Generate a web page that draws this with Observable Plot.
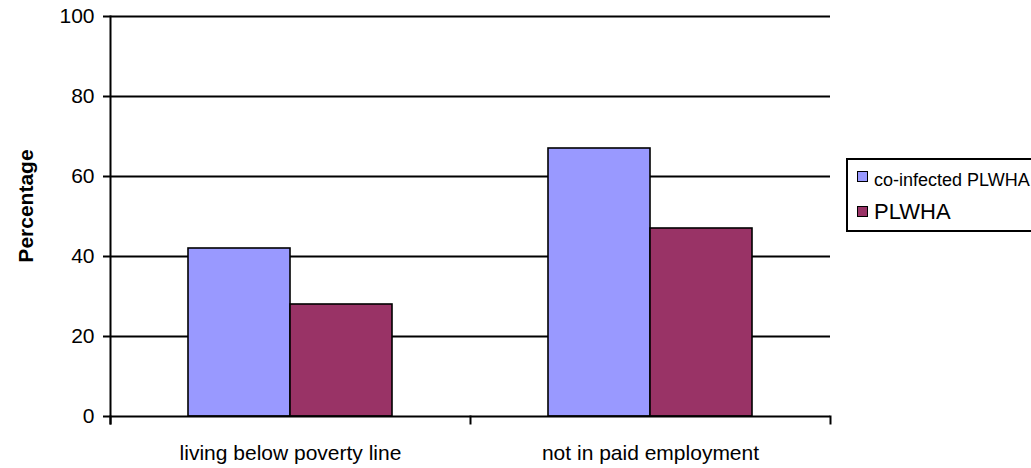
<!DOCTYPE html>
<html>
<head>
<meta charset="utf-8">
<script src="https://cdn.jsdelivr.net/npm/d3@7"></script>
<script src="https://cdn.jsdelivr.net/npm/@observablehq/plot@0.6"></script>
<style>
  body { margin: 0; background: #fff; font-family: "Liberation Sans", Arial, sans-serif; }
  #wrap { position: relative; width: 1031px; height: 468px; overflow: hidden; }
  #ylabel {
    position: absolute; left: -74px; top: 194px; width: 200px; height: 24px;
    line-height: 24px; text-align: center; font-weight: bold; font-size: 21px;
    transform: rotate(-90deg); color: #000;
  }
  #legend {
    position: absolute; left: 846px; top: 158px; width: 200px; height: 70px;
    border: 2px solid #000; background: #fff;
  }
  .sw { position: absolute; left: 9px; width: 9px; height: 9px; border: 1.5px solid #000; }
  .lt { position: absolute; left: 26px; white-space: nowrap; color: #000; }
</style>
</head>
<body>
<div id="wrap"></div>
<script>
// Categories, series and values
const categories = ["living below poverty line", "not in paid employment"];
const seriesNames = ["co-infected PLWHA", "PLWHA"];
const coinfectedValues = [42, 67];
const plwhaValues = [28, 47];
const yTicks = [0, 20, 40, 60, 80, 100];
const seriesColors = ["#9999ff", "#993366"];

const rows = categories.flatMap((c, i) => [
  {category: c, series: seriesNames[0], value: coinfectedValues[i]},
  {category: c, series: seriesNames[1], value: plwhaValues[i]}
]);

const font = '"Liberation Sans", Arial, sans-serif';

const chart = Plot.plot({
  width: 1031,
  height: 468,
  marginLeft: 110,
  marginRight: 201,
  marginTop: 16,
  marginBottom: 52,
  style: {fontFamily: font, fontSize: "21px", color: "#000", background: "#fff", overflow: "visible"},
  fx: {domain: categories, padding: 0, label: null},
  x: {domain: seriesNames, paddingInner: 0, paddingOuter: 0.76, axis: null},
  y: {domain: [0, 100], label: null},
  color: {domain: seriesNames, range: seriesColors},
  marks: [
    // horizontal gridlines
    Plot.ruleY(yTicks.slice(1), {stroke: "#000", strokeWidth: 2}),
    // grouped bars
    Plot.barY(rows, {fx: "category", x: "series", y: "value", fill: "series", stroke: "#000", strokeWidth: 1.6}),
    // baseline
    Plot.ruleY([0], {stroke: "#000", strokeWidth: 2}),
    // vertical value axis line
    Plot.frame({anchor: "left", facetAnchor: "left", stroke: "#000", strokeWidth: 2, insetBottom: -7}),
    // category boundary ticks below the baseline
    Plot.frame({anchor: "left", stroke: "#000", strokeWidth: 2, insetTop: 400, insetBottom: -7}),
    Plot.frame({anchor: "right", facetAnchor: "right", stroke: "#000", strokeWidth: 2, insetTop: 400, insetBottom: -7}),
    Plot.axisY({ticks: yTicks, tickSize: 7, tickPadding: 9, label: null, strokeWidth: 2, fontSize: 21}),
    Plot.axisFx({anchor: "bottom", tickSize: 0, tickPadding: 29, label: null, fontSize: 21})
  ]
});

const wrap = document.getElementById("wrap");
wrap.appendChild(chart);

// axis title
const yl = document.createElement("div");
yl.id = "ylabel";
yl.textContent = "Percentage";
wrap.appendChild(yl);

// legend box
const legend = document.createElement("div");
legend.id = "legend";
const legendItems = [
  {name: seriesNames[0], color: seriesColors[0], swTop: 11, textTop: 10, size: 18},
  {name: seriesNames[1], color: seriesColors[1], swTop: 46, textTop: 39, size: 22}
];
for (const it of legendItems) {
  const sw = document.createElement("div");
  sw.className = "sw";
  sw.style.top = it.swTop + "px";
  sw.style.background = it.color;
  legend.appendChild(sw);
  const t = document.createElement("div");
  t.className = "lt";
  t.style.top = it.textTop + "px";
  t.style.fontSize = it.size + "px";
  t.textContent = it.name;
  legend.appendChild(t);
}
wrap.appendChild(legend);
</script>
</body>
</html>
